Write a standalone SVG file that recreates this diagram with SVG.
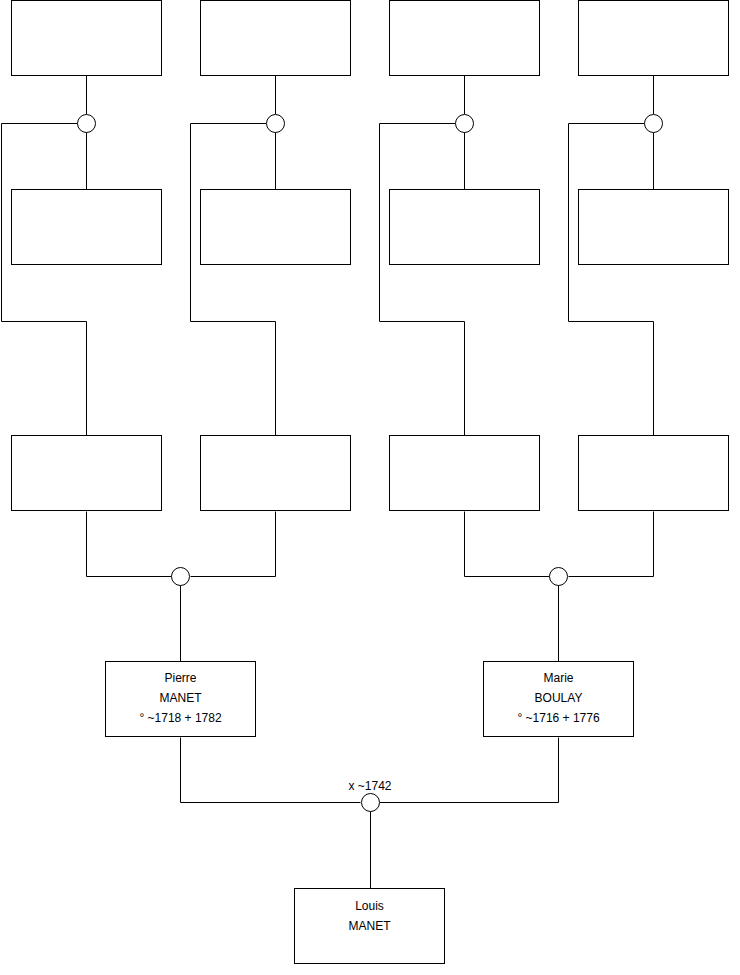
<svg xmlns="http://www.w3.org/2000/svg" width="740" height="975" viewBox="0 0 740 975">
<style>
.box{fill:#fff;stroke:#000;stroke-width:1}
.c{fill:#fff;stroke:#000;stroke-width:1}
.ln{fill:none;stroke:#000;stroke-width:1}
text{font-family:Arial,"Liberation Sans",sans-serif;font-size:12px;fill:#000;text-anchor:middle}
</style>
<rect width="740" height="975" fill="#fff"/>
<g id="connectors">
<path class="ln" d="M86.5 75.5V114M86.5 132V189.5M77.5 123.5H1.5V321.5H86.5V435.5"/>
<path class="ln" d="M275.5 75.5V114M275.5 132V189.5M266.5 123.5H190.5V321.5H275.5V435.5"/>
<path class="ln" d="M464.5 75.5V114M464.5 132V189.5M455.5 123.5H379.5V321.5H464.5V435.5"/>
<path class="ln" d="M653.5 75.5V114M653.5 132V189.5M644.5 123.5H568.5V321.5H653.5V435.5"/>
<path class="ln" d="M86.5 511.5V576.5H171.5M190.5 576.5H275.5V511.5M180.5 585V661.5"/>
<path class="ln" d="M464.5 511.5V576.5H549.5M568.5 576.5H653.5V511.5M558.5 585V661.5"/>
<path class="ln" d="M180.5 737.5V802.5H360.5M379.5 802.5H558.5V737.5M370.5 811V888.5"/>
</g>
<g id="u1"><circle class="c" cx="86.5" cy="123.5" r="9"/></g>
<g id="u2"><circle class="c" cx="275.5" cy="123.5" r="9"/></g>
<g id="u3"><circle class="c" cx="464.5" cy="123.5" r="9"/></g>
<g id="u4"><circle class="c" cx="653.5" cy="123.5" r="9"/></g>
<g id="u5"><circle class="c" cx="180.5" cy="576.5" r="9"/></g>
<g id="u6"><circle class="c" cx="558.5" cy="576.5" r="9"/></g>
<g id="u7"><circle class="c" cx="370.5" cy="802.5" r="9"/><text x="370" y="790">x ~1742</text></g>
<g id="a1"><rect class="box" x="11.5" y="0.5" width="150" height="75"/></g>
<g id="a2"><rect class="box" x="200.5" y="0.5" width="150" height="75"/></g>
<g id="a3"><rect class="box" x="389.5" y="0.5" width="150" height="75"/></g>
<g id="a4"><rect class="box" x="578.5" y="0.5" width="150" height="75"/></g>
<g id="b1"><rect class="box" x="11.5" y="189.5" width="150" height="75"/></g>
<g id="b2"><rect class="box" x="200.5" y="189.5" width="150" height="75"/></g>
<g id="b3"><rect class="box" x="389.5" y="189.5" width="150" height="75"/></g>
<g id="b4"><rect class="box" x="578.5" y="189.5" width="150" height="75"/></g>
<g id="c1"><rect class="box" x="11.5" y="435.5" width="150" height="75"/></g>
<g id="c2"><rect class="box" x="200.5" y="435.5" width="150" height="75"/></g>
<g id="c3"><rect class="box" x="389.5" y="435.5" width="150" height="75"/></g>
<g id="c4"><rect class="box" x="578.5" y="435.5" width="150" height="75"/></g>
<g id="pierre"><rect class="box" x="105.5" y="661.5" width="150" height="75"/>
<text x="180.5" y="682">Pierre</text><text x="180.5" y="702">MANET</text><text x="180.5" y="722">° ~1718 + 1782</text></g>
<g id="marie"><rect class="box" x="483.5" y="661.5" width="150" height="75"/>
<text x="558.5" y="682">Marie</text><text x="558.5" y="702">BOULAY</text><text x="558.5" y="722">° ~1716 + 1776</text></g>
<g id="louis"><rect class="box" x="294.5" y="888.5" width="150" height="75"/>
<text x="369.5" y="910">Louis</text><text x="369.5" y="930">MANET</text></g>
</svg>
